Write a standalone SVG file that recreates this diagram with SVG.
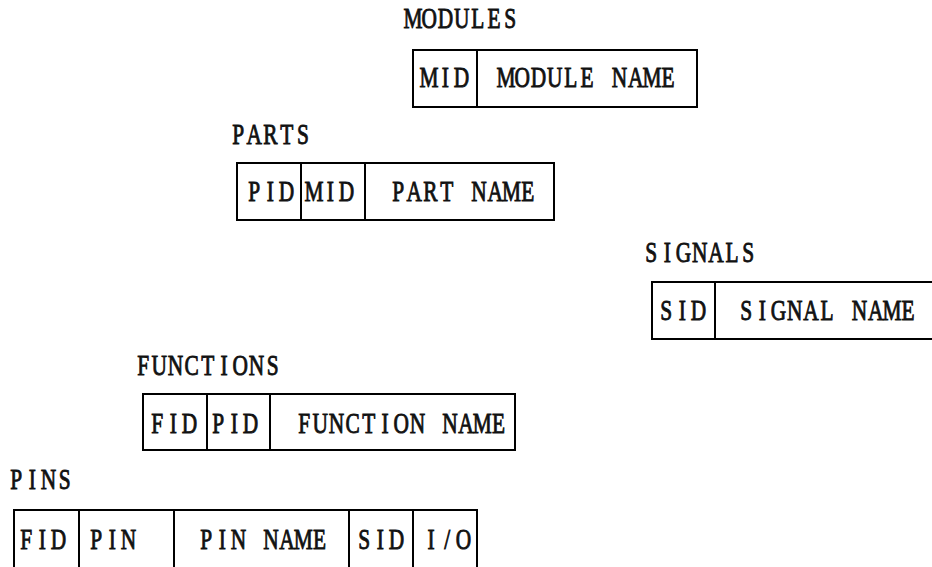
<svg xmlns="http://www.w3.org/2000/svg" width="932" height="567" viewBox="0 0 932 567">
<style>
  .bg { fill: #ffffff; }
  .box { fill: none; stroke: #000; stroke-width: 2; }
  .div { stroke: #000; stroke-width: 2; }
  text { font-family: "Liberation Serif", "Times New Roman", serif; font-size: 28.5px; font-weight: normal; fill: #111; stroke: #111; stroke-width: 0.9; text-anchor: middle; }
</style>
<rect class="bg" x="0" y="0" width="932" height="567"/>
<g id="connectors"/>
<g id="modules">
  <text transform="translate(405 28) scale(0.75 1)" x="10.8 32.4 54 75.6 97.2 118.8 140.4 162 183.6 205.2 226.8 248.4 270" y="0">MODULES</text>
  <rect class="box" x="413" y="50" width="284" height="57"/>
  <line class="div" x1="477" y1="50" x2="477" y2="107"/>
  <text transform="translate(421 87) scale(0.75 1)" x="10.8 32.4 54 75.6 97.2 118.8 140.4 162 183.6 205.2 226.8 248.4 270" y="0">MID</text>
  <text transform="translate(498 87) scale(0.75 1)" x="10.8 32.4 54 75.6 97.2 118.8 140.4 162 183.6 205.2 226.8 248.4 270" y="0">MODULE NAME</text>
</g>
<g id="parts">
  <text transform="translate(230 144) scale(0.75 1)" x="10.8 32.4 54 75.6 97.2 118.8 140.4 162 183.6 205.2 226.8 248.4 270" y="0">PARTS</text>
  <rect class="box" x="237" y="163" width="317" height="57"/>
  <line class="div" x1="301" y1="163" x2="301" y2="220"/>
  <line class="div" x1="365" y1="163" x2="365" y2="220"/>
  <text transform="translate(246 201) scale(0.75 1)" x="10.8 32.4 54 75.6 97.2 118.8 140.4 162 183.6 205.2 226.8 248.4 270" y="0">PID</text>
  <text transform="translate(306 201) scale(0.75 1)" x="10.8 32.4 54 75.6 97.2 118.8 140.4 162 183.6 205.2 226.8 248.4 270" y="0">MID</text>
  <text transform="translate(390 201) scale(0.75 1)" x="10.8 32.4 54 75.6 97.2 118.8 140.4 162 183.6 205.2 226.8 248.4 270" y="0">PART NAME</text>
</g>
<g id="signals">
  <text transform="translate(643 262) scale(0.75 1)" x="10.8 32.4 54 75.6 97.2 118.8 140.4 162 183.6 205.2 226.8 248.4 270" y="0">SIGNALS</text>
  <rect class="box" x="652" y="282" width="290" height="57"/>
  <line class="div" x1="715" y1="282" x2="715" y2="339"/>
  <text transform="translate(658 320) scale(0.75 1)" x="10.8 32.4 54 75.6 97.2 118.8 140.4 162 183.6 205.2 226.8 248.4 270" y="0">SID</text>
  <text transform="translate(738 320) scale(0.75 1)" x="10.8 32.4 54 75.6 97.2 118.8 140.4 162 183.6 205.2 226.8 248.4 270" y="0">SIGNAL NAME</text>
</g>
<g id="functions">
  <text transform="translate(135 375) scale(0.75 1)" x="10.8 32.4 54 75.6 97.2 118.8 140.4 162 183.6 205.2 226.8 248.4 270" y="0">FUNCTIONS</text>
  <rect class="box" x="143" y="394" width="372" height="56"/>
  <line class="div" x1="207" y1="394" x2="207" y2="450"/>
  <line class="div" x1="270" y1="394" x2="270" y2="450"/>
  <text transform="translate(149 433) scale(0.75 1)" x="10.8 32.4 54 75.6 97.2 118.8 140.4 162 183.6 205.2 226.8 248.4 270" y="0">FID</text>
  <text transform="translate(210 433) scale(0.75 1)" x="10.8 32.4 54 75.6 97.2 118.8 140.4 162 183.6 205.2 226.8 248.4 270" y="0">PID</text>
  <text transform="translate(296 433) scale(0.75 1)" x="10.8 32.4 54 75.6 97.2 118.8 140.4 162 183.6 205.2 226.8 248.4 270" y="0">FUNCTION NAME</text>
</g>
<g id="pins">
  <text transform="translate(8 489) scale(0.75 1)" x="10.8 32.4 54 75.6 97.2 118.8 140.4 162 183.6 205.2 226.8 248.4 270" y="0">PINS</text>
  <rect class="box" x="14" y="510" width="463" height="70"/>
  <line class="div" x1="79" y1="510" x2="79" y2="567"/>
  <line class="div" x1="174" y1="510" x2="174" y2="567"/>
  <line class="div" x1="349" y1="510" x2="349" y2="567"/>
  <line class="div" x1="413" y1="510" x2="413" y2="567"/>
  <text transform="translate(18 549) scale(0.75 1)" x="10.8 32.4 54 75.6 97.2 118.8 140.4 162 183.6 205.2 226.8 248.4 270" y="0">FID</text>
  <text transform="translate(88 549) scale(0.75 1)" x="10.8 32.4 54 75.6 97.2 118.8 140.4 162 183.6 205.2 226.8 248.4 270" y="0">PIN</text>
  <text transform="translate(198 549) scale(0.75 1)" x="10.8 32.4 54 75.6 97.2 118.8 140.4 162 183.6 205.2 226.8 248.4 270" y="0">PIN NAME</text>
  <text transform="translate(356 549) scale(0.75 1)" x="10.8 32.4 54 75.6 97.2 118.8 140.4 162 183.6 205.2 226.8 248.4 270" y="0">SID</text>
  <text transform="translate(423 549) scale(0.75 1)" x="10.8 32.4 54 75.6 97.2 118.8 140.4 162 183.6 205.2 226.8 248.4 270" y="0">I/O</text>
</g>
</svg>
